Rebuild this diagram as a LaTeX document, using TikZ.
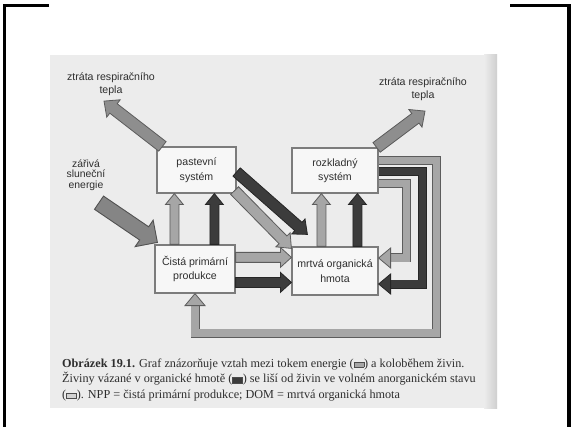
\documentclass[tikz,border=0pt]{standalone}
\usepackage{fontspec}
\setmainfont{Liberation Serif}
\newfontfamily\labelfont{Liberation Sans}
\usetikzlibrary{calc}

\definecolor{pagegray}{HTML}{ECECEC}
\definecolor{shadowgray}{HTML}{CFCFCF}
\definecolor{boxline}{HTML}{7C7C7C}
\definecolor{boxfill}{HTML}{F7F7F7}
\definecolor{lightfill}{HTML}{A6A6A6}
\definecolor{lightedge}{HTML}{5C5C5C}
\definecolor{darkfill}{HTML}{3C3C3C}
\definecolor{darkedge}{HTML}{262626}
\definecolor{sunfill}{HTML}{858585}
\definecolor{heatfill}{HTML}{8E8E8E}
\definecolor{inkgray}{HTML}{2E2E2E}

% straight block arrow: style, start, tip, half shaft, half head, head length
\newcommand\fatarrow[6]{%
  \path (#2) coordinate (fa-s) (#3) coordinate (fa-t);
  \path ($(fa-t)!#6!(fa-s)$) coordinate (fa-h);
  \filldraw[#1] ($(fa-s)!#4!90:(fa-t)$) -- ($(fa-h)!#4!90:(fa-t)$)
    -- ($(fa-h)!#5!90:(fa-t)$) -- (fa-t) -- ($(fa-h)!#5!-90:(fa-t)$)
    -- ($(fa-h)!#4!-90:(fa-t)$) -- ($(fa-s)!#4!-90:(fa-t)$) -- cycle;
}
% arrow head only: style, point behind the tip, tip, half head, head length
\newcommand\fathead[5]{%
  \path (#2) coordinate (fa-s) (#3) coordinate (fa-t);
  \path ($(fa-t)!#5!(fa-s)$) coordinate (fa-h);
  \filldraw[#1] ($(fa-h)!#4!90:(fa-t)$) -- (fa-t) -- ($(fa-h)!#4!-90:(fa-t)$) -- cycle;
}
\newcommand\legendkey[1]{{\setlength{\fboxsep}{0pt}\setlength{\fboxrule}{0.5pt}%
  \fcolorbox{black!70}{#1}{\rule{0pt}{4.8pt}\hspace{9.5pt}}}}

\tikzset{
  compartment/.style={draw=boxline, line width=1.2pt, fill=boxfill, align=center,
    inner sep=0pt, text=inkgray,
    font=\labelfont\fontsize{10.6}{14.5}\selectfont},
  flowlabel/.style={align=center, text=inkgray, inner sep=0pt,
    font=\labelfont\fontsize{10.6}{12.8}\selectfont},
  lightarrow/.style={fill=lightfill, draw=lightedge, line width=0.8pt, line join=miter},
  darkarrow/.style={fill=darkfill, draw=darkedge, line width=0.8pt, line join=miter},
  heatarrow/.style={fill=heatfill, draw=lightedge, line width=0.8pt, line join=miter},
  sunarrow/.style={fill=sunfill, draw=darkedge!80, line width=0.9pt, line join=miter},
  bandedge/.style={line width=9pt, line join=miter, line cap=butt},
  bandcore/.style={line width=7.2pt, line join=miter, line cap=butt},
  caption/.style={anchor=base west, inner sep=0pt, text=inkgray,
    font=\fontsize{12.2}{14}\selectfont},
  cornerline/.style={line width=3.2pt, line join=miter, black}
}

\begin{document}
\begin{tikzpicture}[x=1pt,y=-1pt]
\useasboundingbox (0,0) rectangle (572,427);
\fill[white] (0,0) rectangle (572,427);

% corner marks of the frame
\draw[cornerline] (49,5.8) -| (4.7,428);
\draw[cornerline] (510,5.8) -| (569,428);

% scanned page
\fill[pagegray] (50,55) rectangle (497,408);
\shade[left color=pagegray, right color=shadowgray] (484,55) rectangle (497,408);

% compartments
\node[compartment, minimum width=79pt, minimum height=46pt] (past) at (196.5,170) {pastevní\\systém};
\node[compartment, minimum width=86pt, minimum height=45pt] (rozk) at (335,170.5) {rozkladný\\systém};
\node[compartment, minimum width=80pt, minimum height=48pt] (npp) at (195,269) {Čistá primární\\produkce};
\node[compartment, minimum width=86pt, minimum height=48pt] (dom) at (335,271) {mrtvá organická\\hmota};

% labels
\node[flowlabel] (heatL) at (111,84.5) {ztráta respiračního\\tepla};
\node[flowlabel] (heatR) at (423,89.5) {ztráta respiračního\\tepla};
\node[flowlabel, font=\labelfont\fontsize{10.4}{10.6}\selectfont] (sun) at (86,175) {zářivá\\sluneční\\energie};

% anchor points on the compartments
\coordinate (u1) at ($(npp.north west)+(20,0)$);
\coordinate (u2) at ($(npp.north west)+(60,0)$);
\coordinate (u3) at ($(dom.north west)+(30,0)$);
\coordinate (u4) at ($(dom.north west)+(66,0)$);
\coordinate (h1) at ($(npp.north east)+(0,13)$);
\coordinate (h2) at ($(npp.north east)+(0,38)$);
\coordinate (d1s) at ($(past.east)+(0,2)$);
\coordinate (d1t) at ($(dom.north west)+(16,-12)$);
\coordinate (d2s) at ($(past.south east)+(-2,-3)$);
\coordinate (d2t) at ($(dom.north west)+(0,2)$);
\coordinate (r1s) at ($(past.north west)+(6,0)$);
\coordinate (r1t) at ($(heatL.south)+(-7,5)$);
\coordinate (r2s) at ($(rozk.north east)+(-2,0)$);
\coordinate (r2t) at ($(heatR.south)+(2,10)$);
\coordinate (s1s) at ($(sun.south)+(13,12)$);
\coordinate (s1t) at ($(npp.north west)+(3,-2)$);

% solar input and heat losses
\fatarrow{sunarrow}{s1s}{s1t}{8pt}{16pt}{16pt}
\fatarrow{heatarrow}{r1s}{r1t}{6pt}{11pt}{12pt}
\fatarrow{heatarrow}{r2s}{r2t}{6pt}{11pt}{12pt}

% production to consumers
\fatarrow{lightarrow}{u1}{u1 |- past.south}{4.5pt}{9pt}{11pt}
\fatarrow{darkarrow}{u2}{u2 |- past.south}{4.5pt}{9pt}{11pt}
\fatarrow{lightarrow}{u3}{u3 |- rozk.south}{4.5pt}{9pt}{11pt}
\fatarrow{darkarrow}{u4}{u4 |- rozk.south}{4.5pt}{9pt}{11pt}

% production and grazing into dead organic matter
\fatarrow{lightarrow}{h1}{h1 -| dom.west}{5pt}{10pt}{11pt}
\fatarrow{darkarrow}{h2}{h2 -| dom.west}{5pt}{10pt}{11pt}
\fatarrow{lightarrow}{d2s}{d2t}{5.5pt}{10pt}{12pt}
\fatarrow{darkarrow}{d1s}{d1t}{5.5pt}{10pt}{12pt}

% recycling loops from the decomposers
\coordinate (o1) at ($(rozk.north east)+(0,13)$);
\coordinate (o2) at ($(rozk.north east)+(58,13)$);
\coordinate (o3) at (o2 |- 0,333);
\coordinate (o4) at (npp.south |- 0,333);
\coordinate (o5) at ($(npp.south)+(0,12)$);
\draw[bandedge, lightedge] (o1) -- (o2) -- (o3) -- (o4) -- ($(o5)+(0,-0.5)$);
\draw[bandcore, lightfill] (o1) -- (o2) -- (o3) -- (o4) -- ($(o5)+(0,-0.5)$);
\fathead{lightarrow}{o4}{npp.south}{10pt}{12pt}

\coordinate (k1) at ($(rozk.north east)+(0,24)$);
\coordinate (k2) at ($(rozk.north east)+(44,24)$);
\coordinate (k3) at (k2 |- 0,284);
\coordinate (k4) at ($(dom.east |- 0,284)+(12,0)$);
\draw[bandedge, darkedge] (k1) -- (k2) -- (k3) -- ($(k4)+(-0.5,0)$);
\draw[bandcore, darkfill] (k1) -- (k2) -- (k3) -- ($(k4)+(-0.5,0)$);
\fathead{darkarrow}{k3}{dom.east |- k3}{10pt}{12pt}

\coordinate (i1) at ($(rozk.north east)+(0,36)$);
\coordinate (i2) at ($(rozk.north east)+(28,36)$);
\coordinate (i3) at (i2 |- 0,258);
\coordinate (i4) at ($(dom.east |- 0,258)+(12,0)$);
\draw[bandedge, lightedge] (i1) -- (i2) -- (i3) -- ($(i4)+(-0.5,0)$);
\draw[bandcore, lightfill] (i1) -- (i2) -- (i3) -- ($(i4)+(-0.5,0)$);
\fathead{lightarrow}{i3}{dom.east |- i3}{10pt}{12pt}

% caption
\node[caption] (cap1) at (62,367) {\textbf{Obrázek 19.1.} Graf znázorňuje vztah mezi tokem energie (\legendkey{lightfill}) a koloběhem živin.};
\node[caption] (cap2) at (62,382.5) {Živiny vázané v organické hmotě (\legendkey{darkfill}) se liší od živin ve volném anorganickém stavu};
\node[caption] (cap3) at (62,398) {(\legendkey{lightfill!50}). NPP = čistá primární produkce; DOM = mrtvá organická hmota};
\end{tikzpicture}
\end{document}
